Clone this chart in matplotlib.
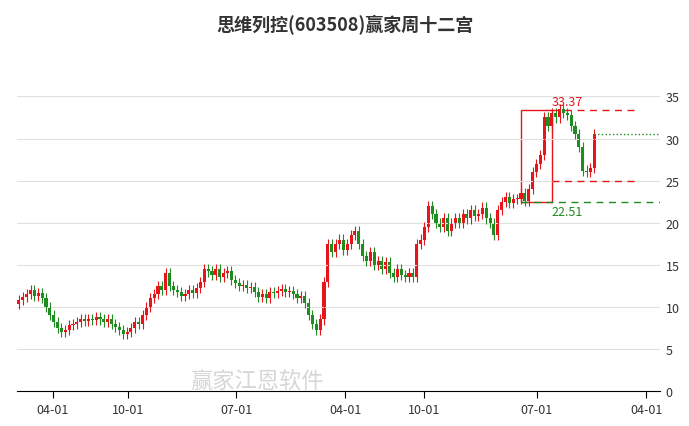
import numpy as np
import matplotlib.pyplot as plt
from matplotlib.patches import Rectangle

plt.rcParams['font.family'] = ['Noto Sans CJK SC', 'DejaVu Sans']

closes = [10.8, 11.2, 11.5, 12.0, 11.3, 11.6, 11.0,
          10.0, 9.0, 8.2, 7.5, 7.0,
          7.2, 7.8, 8.0,
          8.2, 8.5, 8.3, 8.6, 8.4, 8.8, 8.5, 8.2, 8.6, 8.0,
          7.6, 7.2, 6.8, 7.0,
          7.5, 8.2, 8.0, 9.0, 10.0, 11.0, 11.5, 12.5, 12.0,
          14.0,
          12.5, 12.0, 11.8, 11.3, 11.5, 12.0, 11.6, 12.2,
          13.0, 14.5, 14.2, 13.8,
          14.5, 13.5, 14.0, 14.3, 13.2,
          12.8, 12.5, 12.6, 12.2, 12.4, 11.8,
          11.2, 11.5, 11.0, 11.8, 11.6, 11.9, 12.1,
          11.8, 11.9, 11.5, 11.0, 11.3, 10.5, 9.0, 8.0,
          7.3, 8.5,
          13.0, 17.5,
          16.5, 17.5, 18.0, 16.8, 17.5, 18.5, 19.0, 17.5, 16.0,
          15.5, 16.5, 15.0, 15.5, 14.5, 15.3, 14.0, 13.5,
          14.5, 13.8, 13.5, 14.0, 13.6,
          17.5, 18.0,
          19.5, 22.0, 21.0, 20.0,
          19.5, 20.5, 19.0, 20.0, 20.5,
          20.0, 21.0, 20.5, 21.5, 20.8, 21.0, 21.8, 20.5, 20.0,
          18.5,
          21.5, 22.5, 23.0, 22.3, 22.8,
          22.8, 23.5, 22.6, 24.0,
          26.0, 27.0, 28.0,
          32.5, 31.5,
          33.0, 32.5, 33.5, 33.0, 32.8,
          31.5, 30.5, 29.0,
          26.2, 26.0, 26.5,
          30.5]
first_open = 10.3
tick_pos = [8.8, 28.2, 56.3, 84.5, 104.9, 134.1, 162.5]
tick_labels = ['04-01', '10-01', '07-01', '04-01', '10-01', '07-01', '04-01']
box_top, box_bottom, mid_level, last_close = 33.37, 22.51, 24.9, 30.5
box_start, box_end = 130, 138

opens = [first_open] + closes[:-1]
red, green = '#e8141c', '#1e8c1e'

fig = plt.figure(figsize=(6.89, 4.27), dpi=100)
ax = fig.add_axes([17/689, 35/427, 643/689, 324/427])
for i, (o, c) in enumerate(zip(opens, closes)):
    col = red if c >= o else green
    hi, lo = max(o, c) + 0.6, min(o, c) - 0.6
    ax.vlines(i, lo, hi, color=col, lw=0.8)
    ax.add_patch(Rectangle((i - 0.4, min(o, c)), 0.8, max(abs(c - o), 0.1), color=col, lw=0))

ax.add_patch(Rectangle((box_start, box_bottom), box_end - box_start, box_top - box_bottom,
                       fill=False, ec=red, lw=1))
ax.plot([box_end, 160], [box_top, box_top], color=red, ls=(0, (5, 4)), lw=1)
ax.plot([box_end, 160], [mid_level, mid_level], color=red, ls=(0, (5, 4)), lw=1)
ax.plot([box_start, 166], [box_bottom, box_bottom], color=green, ls=(0, (5, 4)), lw=1)
ax.plot([len(closes) - 1, 166], [last_close, last_close], color=green, ls=':', lw=1)
ax.text(142, box_top + 0.3, f'{box_top:.2f}', color=red, ha='center', va='bottom', fontsize=9)
ax.text(142, box_bottom - 0.4, f'{box_bottom:.2f}', color=green, ha='center', va='top', fontsize=9)

ax.text(0.27, 0.01, '赢家江恩软件', transform=ax.transAxes, fontsize=16, color='#bbbbbb', alpha=0.6)

ax.set_xlim(-0.5, 166)
ax.set_ylim(0, 38.5)
ax.set_yticks(range(0, 40, 5))
ax.yaxis.tick_right()
ax.tick_params(axis='y', length=0, pad=4, labelsize=9, colors='#333333')
ax.set_xticks(tick_pos)
ax.set_xticklabels(tick_labels, fontsize=9, color='#333333')
ax.tick_params(axis='x', length=5)
ax.grid(axis='y', color='#e0e0e0', lw=0.8)
for s in ['top', 'right', 'left']:
    ax.spines[s].set_visible(False)
fig.suptitle('思维列控(603508)赢家周十二宫', y=0.965, fontsize=13, fontweight='bold', color='#333333')
fig.savefig('out.png')
